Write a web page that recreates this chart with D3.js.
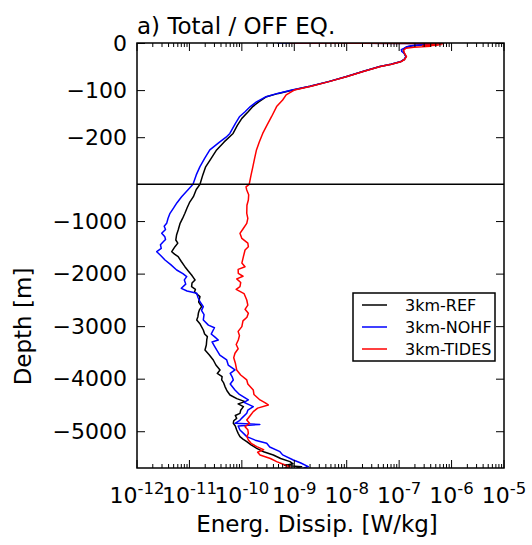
<!DOCTYPE html>
<html>
<head>
<meta charset="UTF-8">
<title>Total / OFF EQ.</title>
<script src="https://d3js.org/d3.v7.min.js"></script>
<style>
    body { margin: 0; background: #fff; }
    svg { display: block; font-family: 'DejaVu Sans', sans-serif; }
</style>
</head>
<body>
<svg id="chart" width="532" height="545"></svg>
<script>
// profiles: [depth (m), dissipation (W/kg)]
const refProfile = [
    [0, 8.0e-10], [-1, 6.0e-7], [-2, 4.2e-7], [-4, 2.6e-7], [-6, 1.8e-7], [-8, 1.45e-7], [-11, 1.29e-7],
    [-15, 1.2e-7], [-20, 1.22e-7], [-29, 1.35e-7], [-35, 1.25e-7], [-40, 1.05e-7], [-45, 7.0e-8],
    [-50, 4.3e-8], [-60, 2.1e-8], [-71, 1.0e-8], [-82, 4.5e-9], [-92, 2.0e-9], [-100, 9.5e-10],
    [-107, 5.0e-10], [-114, 2.95e-10], [-125, 2.1e-10], [-135, 1.62e-10], [-146, 1.32e-10],
    [-160, 1.0e-10], [-175, 8.2e-11], [-192, 6.8e-11], [-210, 4.6e-11], [-227, 3.3e-11],
    [-245, 2.6e-11], [-263, 2.04e-11], [-280, 1.8e-11], [-300, 1.59e-11],
    [-400, 1.35e-11], [-536, 1.19e-11], [-650, 1.0e-11], [-750, 9.0e-12], [-852, 8.2e-12],
    [-950, 7.4e-12], [-1050, 6.6e-12], [-1170, 6.1e-12], [-1260, 5.7e-12], [-1360, 5.5e-12],
    [-1420, 6.0e-12], [-1488, 5.3e-12], [-1583, 4.6e-12], [-1630, 5.2e-12], [-1678, 6.1e-12],
    [-1770, 7.0e-12], [-1868, 8.2e-12], [-1950, 9.5e-12], [-2026, 1.1e-11], [-2080, 1.2e-11],
    [-2121, 1.28e-11], [-2180, 1.12e-11], [-2249, 1.1e-11], [-2300, 1.3e-11], [-2350, 1.25e-11],
    [-2439, 1.59e-11], [-2540, 1.5e-11], [-2629, 1.71e-11], [-2690, 1.55e-11], [-2755, 1.48e-11],
    [-2820, 1.45e-11], [-2882, 1.38e-11], [-2960, 1.6e-11], [-3073, 1.84e-11], [-3150, 1.95e-11],
    [-3200, 2.2e-11], [-3263, 2.14e-11], [-3360, 2.1e-11], [-3453, 1.98e-11], [-3550, 2.4e-11],
    [-3644, 2.85e-11], [-3740, 3.2e-11], [-3834, 3.83e-11], [-3900, 3.4e-11], [-3960, 4.2e-11],
    [-4024, 4.12e-11], [-4080, 4.5e-11], [-4151, 4.77e-11], [-4230, 5.2e-11], [-4310, 5.94e-11],
    [-4380, 8.0e-11], [-4437, 1.15e-10], [-4480, 8.5e-11], [-4532, 1.07e-10], [-4600, 9.5e-11],
    [-4659, 9.2e-11], [-4700, 7.5e-11], [-4754, 7.97e-11], [-4800, 7.0e-11], [-4849, 6.87e-11],
    [-4900, 7.5e-11], [-4976, 7.97e-11], [-5040, 8.5e-11], [-5103, 9.2e-11], [-5150, 1.05e-10],
    [-5198, 1.24e-10], [-5260, 1.5e-10], [-5325, 1.92e-10], [-5390, 2.6e-10], [-5452, 3.98e-10],
    [-5520, 5.5e-10], [-5579, 8.28e-10], [-5620, 9.5e-10], [-5650, 6.5e-10], [-5674, 1.38e-9],
    [-5700, 1.1e-9]
];

const nohfProfile = [
    [0, 4.7e-10], [-1, 6.0e-7], [-2, 4.0e-7], [-4, 2.5e-7], [-6, 1.7e-7], [-8, 1.4e-7], [-11, 1.25e-7],
    [-14, 1.1e-7], [-18, 1.12e-7], [-22, 1.25e-7], [-29, 1.35e-7], [-35, 1.25e-7], [-40, 1.05e-7],
    [-45, 7.0e-8], [-50, 4.3e-8], [-60, 2.1e-8], [-71, 1.0e-8], [-82, 4.5e-9], [-92, 2.0e-9],
    [-100, 9.0e-10], [-107, 4.8e-10], [-114, 2.9e-10], [-125, 1.9e-10], [-135, 1.45e-10],
    [-146, 1.15e-10], [-156, 9.1e-11], [-170, 7.6e-11], [-192, 5.9e-11], [-200, 5.0e-11],
    [-210, 3.8e-11], [-227, 2.45e-11], [-245, 1.95e-11], [-263, 1.58e-11], [-280, 1.35e-11],
    [-300, 1.17e-11],
    [-400, 9.5e-12], [-536, 7.1e-12], [-650, 5.8e-12], [-750, 5.0e-12], [-852, 4.26e-12],
    [-950, 3.9e-12], [-1043, 3.68e-12], [-1100, 3.3e-12], [-1160, 3.5e-12], [-1233, 2.96e-12],
    [-1300, 3.4e-12], [-1350, 3.5e-12], [-1392, 3.17e-12], [-1450, 2.8e-12], [-1520, 2.9e-12],
    [-1583, 2.38e-12], [-1650, 2.8e-12], [-1741, 3.42e-12], [-1830, 4.4e-12], [-1931, 5.71e-12],
    [-2000, 7.5e-12], [-2058, 8.87e-12], [-2120, 8.0e-12], [-2200, 8.5e-12], [-2280, 7.0e-12],
    [-2330, 9.0e-12], [-2375, 1.38e-11], [-2450, 1.45e-11], [-2540, 1.6e-11], [-2629, 1.84e-11],
    [-2700, 1.7e-11], [-2780, 1.9e-11], [-2882, 1.84e-11], [-2980, 2.3e-11], [-3030, 3.0e-11],
    [-3073, 2.85e-11], [-3150, 2.6e-11], [-3200, 3.0e-11], [-3263, 3.55e-11], [-3300, 2.7e-11],
    [-3380, 3.0e-11], [-3453, 3.31e-11], [-3550, 3.8e-11], [-3644, 5.14e-11], [-3740, 5.5e-11],
    [-3834, 7.39e-11], [-3900, 6.0e-11], [-3960, 6.5e-11], [-4024, 6.87e-11], [-4100, 6.0e-11],
    [-4215, 7.39e-11], [-4300, 9.0e-11], [-4405, 1.33e-10], [-4450, 1.1e-10], [-4532, 1.65e-10],
    [-4600, 1.3e-10], [-4659, 1.24e-10], [-4750, 1.0e-10], [-4800, 9.0e-11], [-4849, 7.39e-11],
    [-4870, 2.2e-10], [-4900, 8.5e-11], [-4976, 9.2e-11], [-5050, 1.1e-10], [-5103, 1.24e-10],
    [-5170, 1.8e-10], [-5230, 2.98e-10], [-5300, 3.4e-10], [-5389, 5.33e-10], [-5450, 6.0e-10],
    [-5547, 9.57e-10], [-5600, 1.3e-9], [-5674, 1.85e-9], [-5700, 1.5e-9]
];

const tidesProfile = [
    [0, 8.3e-10], [-1, 7.0e-7], [-2, 3.0e-7], [-3, 6.5e-7], [-4, 3.2e-7], [-5, 5.5e-7], [-6, 2.8e-7],
    [-7, 4.0e-7], [-9, 1.9e-7], [-11, 1.35e-7], [-15, 1.22e-7], [-20, 1.24e-7], [-29, 1.38e-7],
    [-35, 1.27e-7], [-40, 1.07e-7], [-45, 7.2e-8], [-50, 4.4e-8], [-60, 2.15e-8], [-71, 1.02e-8],
    [-82, 4.6e-9], [-92, 2.1e-9], [-100, 1.0e-9], [-110, 7.0e-10], [-121, 6.0e-10], [-135, 4.6e-10],
    [-156, 3.7e-10], [-175, 3.0e-10], [-192, 2.5e-10], [-210, 2.15e-10], [-227, 1.9e-10],
    [-245, 1.75e-10], [-263, 1.62e-10], [-280, 1.5e-10], [-300, 1.38e-10],
    [-350, 1.2e-10], [-408, 1.24e-10], [-500, 1.35e-10], [-598, 1.33e-10], [-700, 1.25e-10],
    [-852, 1.24e-10], [-950, 1.3e-10], [-1043, 1.24e-10], [-1150, 1.05e-10], [-1233, 9.2e-11],
    [-1330, 1.0e-10], [-1420, 1.3e-10], [-1488, 1.33e-10], [-1550, 1.15e-10], [-1678, 1.07e-10],
    [-1800, 1.0e-10], [-1870, 1.15e-10], [-1920, 8.5e-11], [-1995, 8.55e-11], [-2050, 1.05e-10],
    [-2100, 8.0e-11], [-2170, 9.5e-11], [-2249, 9.2e-11], [-2300, 7.8e-11], [-2380, 1.1e-10],
    [-2502, 1.24e-10], [-2600, 1.3e-10], [-2680, 1.15e-10], [-2755, 1.33e-10], [-2830, 1.25e-10],
    [-2900, 1.05e-10], [-3009, 1.0e-10], [-3100, 8.5e-11], [-3180, 9.0e-11], [-3263, 8.55e-11],
    [-3350, 7.8e-11], [-3430, 8.5e-11], [-3516, 7.39e-11], [-3600, 7.0e-11], [-3700, 7.5e-11],
    [-3834, 7.97e-11], [-3930, 9.5e-11], [-4024, 1.24e-10], [-4100, 1.3e-10], [-4215, 1.65e-10],
    [-4300, 1.7e-10], [-4405, 2.22e-10], [-4460, 2.8e-10], [-4500, 3.19e-10], [-4560, 2.0e-10],
    [-4627, 1.65e-10], [-4700, 1.45e-10], [-4786, 1.24e-10], [-4850, 1.4e-10], [-4913, 1.15e-10],
    [-4970, 1.3e-10], [-5040, 1.33e-10], [-5100, 1.25e-10], [-5166, 1.33e-10], [-5230, 1.5e-10],
    [-5293, 1.92e-10], [-5350, 2.6e-10], [-5400, 2.0e-10], [-5452, 2.22e-10], [-5520, 3.5e-10],
    [-5579, 4.61e-10], [-5620, 5.8e-10], [-5674, 8.28e-10], [-5700, 6.5e-10]
];

const seriesNames = ["3km-REF", "3km-NOHF", "3km-TIDES"];
const seriesColors = ["#000000", "#0000ff", "#ff0000"];
const xTickExponents = [-12, -11, -10, -9, -8, -7, -6, -5];
const yTicksTop = [0, -100, -200];
const yTicksBottom = [-1000, -2000, -3000, -4000, -5000];

const profiles = [refProfile, nohfProfile, tidesProfile];

const svg = d3.select("#chart");
const pLeft = 137, pRight = 504, pTop = 43, pSplit = 184.3, pBottom = 468;

const x = d3.scaleLog().domain([1e-12, 1e-5]).range([pLeft, pRight]);
const yTop = d3.scaleLinear().domain([0, -300]).range([pTop, pSplit]);
const yBot = d3.scaleLinear().domain([-300, -5700]).range([pSplit, pBottom]);

svg.append("rect").attr("width", 532).attr("height", 545).attr("fill", "#fff");

const defs = svg.append("defs");
defs.append("clipPath").attr("id", "clipTop")
    .append("rect").attr("x", pLeft).attr("y", pTop).attr("width", pRight - pLeft).attr("height", pSplit - pTop);
defs.append("clipPath").attr("id", "clipBot")
    .append("rect").attr("x", pLeft).attr("y", pSplit).attr("width", pRight - pLeft).attr("height", pBottom - pSplit);

// curves, once per panel
[[yTop, "clipTop"], [yBot, "clipBot"]].forEach(([ys, clip]) => {
    const line = d3.line().x(d => x(d[1])).y(d => ys(d[0]));
    const g = svg.append("g").attr("clip-path", `url(#${clip})`);
    profiles.forEach((p, i) => {
        g.append("path")
            .attr("d", line(p))
            .attr("fill", "none")
            .attr("stroke", seriesColors[i])
            .attr("stroke-width", 1.5)
            .attr("stroke-linejoin", "round");
    });
});

// log ticks on top and bottom edges
const majors = xTickExponents.map(e => Math.pow(10, e));
const minors = x.ticks().filter(v => Math.abs(Math.log10(v) - Math.round(Math.log10(v))) > 1e-6);

function xTicks(y0, dir) {
    const g = svg.append("g").attr("stroke", "#000").attr("stroke-width", 1);
    g.selectAll(".maj").data(majors).join("line")
        .attr("x1", d => x(d)).attr("x2", d => x(d))
        .attr("y1", y0).attr("y2", y0 + dir * 8);
    g.selectAll(".min").data(minors).join("line")
        .attr("x1", d => x(d)).attr("x2", d => x(d))
        .attr("y1", y0).attr("y2", y0 + dir * 4);
}
xTicks(pTop, 1);
xTicks(pBottom, -1);

// y ticks, pointing inward from both sides
function yTicks(scale, values) {
    svg.append("g").attr("transform", `translate(${pLeft},0)`)
        .call(d3.axisLeft(scale).tickValues(values).tickSizeInner(-8).tickSizeOuter(0).tickPadding(10)
            .tickFormat(d => d === 0 ? "0" : "\u2212" + Math.abs(d)))
        .call(g => g.select(".domain").remove())
        .call(g => g.selectAll("text").attr("font-size", 22).attr("font-family", "DejaVu Sans").attr("fill", "#000"));
    svg.append("g").attr("transform", `translate(${pRight},0)`)
        .call(d3.axisRight(scale).tickValues(values).tickSizeInner(-8).tickSizeOuter(0).tickFormat(""))
        .call(g => g.select(".domain").remove());
}
yTicks(yTop, yTicksTop);
yTicks(yBot, yTicksBottom);

// x tick labels with superscript exponents
const xl = svg.append("g").attr("font-size", 22).attr("text-anchor", "middle");
xTickExponents.forEach(e => {
    const t = xl.append("text").attr("x", x(Math.pow(10, e))).attr("y", 503);
    t.append("tspan").text("10");
    t.append("tspan").attr("font-size", 16.5).attr("dy", -9).text(String(e));
});

// frame and panel separator
svg.append("rect")
    .attr("x", pLeft).attr("y", pTop).attr("width", pRight - pLeft).attr("height", pBottom - pTop)
    .attr("fill", "none").attr("stroke", "#000").attr("stroke-width", 1.5);
svg.append("line")
    .attr("x1", pLeft).attr("x2", pRight).attr("y1", pSplit).attr("y2", pSplit)
    .attr("stroke", "#000").attr("stroke-width", 1.5);

// titles
svg.append("text").attr("x", pLeft).attr("y", 34).attr("font-size", 23).text("a) Total / OFF EQ.");
svg.append("text").attr("x", 317).attr("y", 532).attr("font-size", 23).attr("text-anchor", "middle")
    .text("Energ. Dissip. [W/kg]");
svg.append("text").attr("transform", "translate(31,326.5) rotate(-90)")
    .attr("font-size", 23).attr("text-anchor", "middle").text("Depth [m]");

// legend
const lg = svg.append("g").attr("transform", "translate(353,293)");
lg.append("rect").attr("width", 142).attr("height", 68)
    .attr("fill", "#fff").attr("stroke", "#000").attr("stroke-width", 1.5);
seriesNames.forEach((name, i) => {
    const yy = 12 + i * 22;
    lg.append("line").attr("x1", 9).attr("x2", 34).attr("y1", yy).attr("y2", yy)
        .attr("stroke", seriesColors[i]).attr("stroke-width", 1.5);
    lg.append("text").attr("x", 52).attr("y", yy).attr("dy", "0.36em")
        .attr("font-size", 16).text(name);
});
</script>
</body>
</html>
